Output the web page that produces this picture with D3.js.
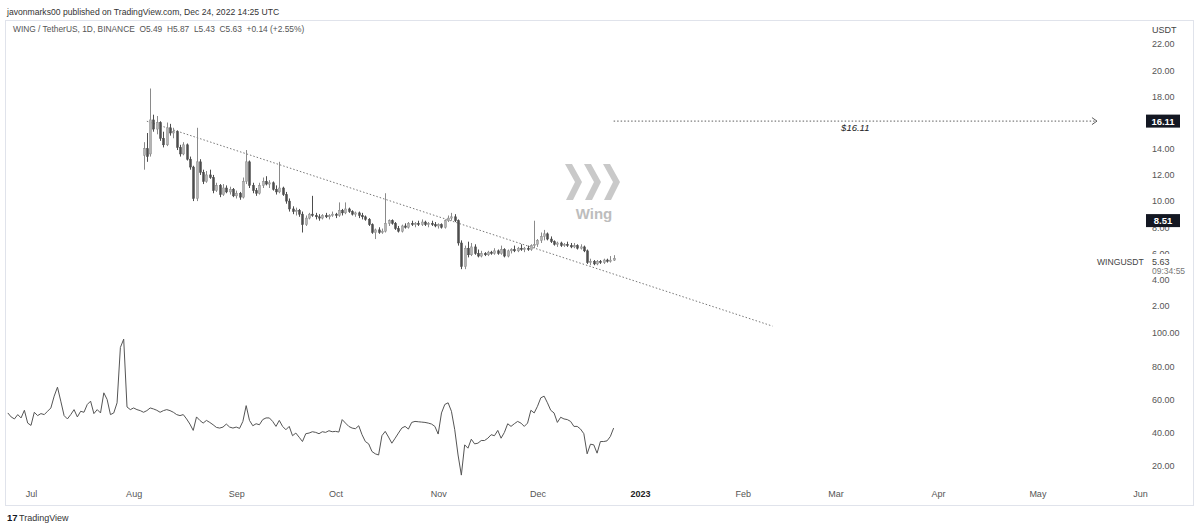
<!DOCTYPE html>
<html lang="en">
<head>
<meta charset="utf-8">
<title>WINGUSDT 1D</title>
<script src="https://cdn.jsdelivr.net/npm/d3@7"></script>
<style>
    body { margin: 0; background: #fff; }
    text { font-family: "Liberation Sans", Arial, sans-serif; }
</style>
</head>
<body>
<script>
// ---- data ----
// daily candles, first one on 2022-08-04
var candleStart = new Date(2022, 7, 4);
var opens = [
    13.5, 14.0, 13.6, 16.2, 15.5, 16.0, 14.8, 14.3, 15.6, 15.2,
    15.3, 14.1, 13.6, 14.3, 13.2, 12.6, 10.2, 13.0, 12.2, 11.5,
    12.0, 11.8, 10.8, 11.2, 10.5, 11.0, 10.7, 10.9, 10.4, 10.6,
    10.3, 11.5, 13.0, 11.2, 10.8, 10.6, 11.2, 11.5, 11.3, 11.4,
    10.9, 10.7, 11.0, 10.5, 10.0, 9.4, 9.2, 9.3, 9.0, 8.2,
    8.7, 9.0, 8.9, 8.8, 8.7, 8.9, 8.8, 8.9, 9.0, 8.9,
    9.3, 9.1, 9.4, 9.2, 9.0, 9.1, 8.9, 8.8, 8.6, 8.2,
    7.6, 7.8, 7.6, 7.7, 8.3, 8.5, 8.3, 7.9, 7.7, 8.1,
    8.0, 8.3, 8.2, 8.3, 8.2, 8.4, 8.2, 8.3, 8.2, 8.1,
    8.2, 8.0, 8.5, 8.7, 8.8, 8.5, 6.8, 5.0, 6.4, 5.9,
    6.5, 6.0, 5.8, 6.0, 5.9, 6.1, 6.0, 6.2, 6.0, 6.3,
    5.8, 6.2, 6.3, 6.2, 6.4, 6.3, 6.4, 6.3, 6.6, 6.7,
    7.0, 7.3, 7.5, 7.1, 6.9, 6.7, 6.8, 6.6, 6.7, 6.6,
    6.5, 6.6, 6.4, 6.5, 6.2, 5.3, 5.4, 5.2, 5.4, 5.3,
    5.5, 5.4, 5.49
];
var highs = [
    14.5, 15.2, 18.6, 16.6, 16.5, 16.1, 15.3, 16.0, 15.9, 15.6,
    15.4, 14.3, 14.5, 14.4, 13.4, 12.7, 15.6, 13.2, 12.4, 12.3,
    12.4, 12.0, 11.4, 11.3, 11.3, 11.2, 11.1, 11.0, 10.8, 10.7,
    11.8, 13.9, 13.1, 11.4, 11.0, 11.4, 11.8, 11.9, 11.6, 11.5,
    11.2, 13.0, 11.1, 10.7, 10.2, 9.6, 9.5, 9.4, 9.2, 8.9,
    9.1, 10.4, 9.1, 9.0, 9.0, 9.1, 9.0, 9.2, 9.1, 9.9,
    9.4, 9.9, 9.5, 9.3, 9.2, 9.2, 9.1, 8.9, 8.7, 8.3,
    7.9, 8.0, 7.9, 10.6, 8.6, 8.6, 8.4, 8.1, 8.2, 8.3,
    8.4, 8.5, 8.4, 8.5, 8.6, 8.5, 8.4, 8.5, 8.4, 8.3,
    8.3, 8.6, 8.9, 9.1, 9.0, 8.6, 7.0, 6.6, 6.9, 6.8,
    6.7, 6.3, 6.2, 6.1, 6.2, 6.2, 6.4, 6.3, 6.6, 6.4,
    6.3, 6.4, 6.6, 6.5, 6.7, 6.5, 6.6, 6.7, 8.5, 7.1,
    7.6, 7.8, 7.6, 7.3, 7.0, 6.9, 6.9, 6.8, 6.9, 6.8,
    6.8, 6.7, 6.7, 6.6, 6.3, 5.6, 5.5, 5.5, 5.5, 5.6,
    5.6, 5.8, 5.87
];
var lows = [
    12.4, 13.0, 13.4, 15.3, 15.1, 14.6, 14.1, 14.2, 15.0, 14.8,
    13.9, 13.4, 13.5, 13.1, 12.4, 10.0, 10.0, 12.0, 11.3, 11.4,
    11.7, 10.6, 10.7, 10.3, 10.4, 10.6, 10.5, 10.3, 10.2, 10.1,
    10.2, 11.3, 11.0, 10.6, 10.4, 10.5, 11.0, 11.2, 11.0, 10.8,
    10.5, 10.6, 10.4, 9.8, 9.2, 9.0, 8.9, 8.8, 7.6, 8.1,
    8.6, 8.8, 8.6, 8.5, 8.6, 8.7, 8.6, 8.8, 8.7, 8.8,
    8.9, 9.0, 9.1, 8.9, 8.8, 8.7, 8.6, 8.5, 8.1, 7.5,
    7.1, 7.5, 7.5, 7.6, 8.1, 8.2, 7.8, 7.6, 7.6, 7.9,
    7.9, 8.1, 8.0, 8.1, 8.1, 8.1, 8.0, 8.1, 8.0, 7.9,
    7.9, 7.9, 8.4, 8.5, 8.4, 6.6, 4.8, 4.8, 5.7, 5.8,
    5.9, 5.7, 5.7, 5.8, 5.8, 5.9, 5.9, 5.9, 5.9, 5.7,
    5.7, 6.0, 6.1, 6.1, 6.2, 6.1, 6.2, 6.2, 6.4, 6.5,
    6.8, 7.0, 7.0, 6.8, 6.6, 6.5, 6.5, 6.5, 6.5, 6.4,
    6.4, 6.3, 6.3, 6.1, 5.2, 5.1, 5.1, 5.1, 5.2, 5.2,
    5.3, 5.3, 5.43
];
var closes = [
    14.0, 13.4, 16.2, 15.5, 16.0, 14.8, 14.3, 15.6, 15.2, 15.3,
    14.1, 13.6, 14.3, 13.2, 12.6, 10.2, 13.0, 12.2, 11.5, 12.0,
    11.8, 10.8, 11.2, 10.5, 11.0, 10.7, 10.9, 10.4, 10.6, 10.3,
    11.5, 13.0, 11.2, 10.8, 10.6, 11.2, 11.5, 11.3, 11.4, 10.9,
    10.7, 11.0, 10.5, 10.0, 9.4, 9.2, 9.3, 9.0, 8.2, 8.7,
    9.0, 8.9, 8.8, 8.7, 8.9, 8.8, 8.9, 9.0, 8.9, 9.3,
    9.1, 9.4, 9.2, 9.0, 9.1, 8.9, 8.8, 8.6, 8.2, 7.6,
    7.8, 7.6, 7.7, 8.3, 8.5, 8.3, 7.9, 7.7, 8.1, 8.0,
    8.3, 8.2, 8.3, 8.2, 8.4, 8.2, 8.3, 8.2, 8.1, 8.2,
    8.0, 8.5, 8.7, 8.8, 8.5, 6.8, 5.0, 6.4, 5.9, 6.5,
    6.0, 5.8, 6.0, 5.9, 6.1, 6.0, 6.2, 6.0, 6.3, 5.8,
    6.2, 6.3, 6.2, 6.4, 6.3, 6.4, 6.3, 6.6, 6.7, 7.0,
    7.3, 7.5, 7.1, 6.9, 6.7, 6.8, 6.6, 6.7, 6.6, 6.5,
    6.6, 6.4, 6.5, 6.2, 5.3, 5.4, 5.2, 5.4, 5.3, 5.5,
    5.4, 5.49, 5.63
];

// lower pane line, one value per day from 2022-06-24
var oscStart = new Date(2022, 5, 24);
var oscValues = [
    51.9, 49.5, 48.3, 50.9, 48.9, 53.5, 45.8, 44.4, 52.3, 50.3,
    51.5, 50.9, 52.9, 54.9, 62.0, 67.4, 59.0, 50.3, 48.3, 50.9,
    53.9, 49.5, 52.9, 52.3, 57.0, 59.0, 51.5, 53.9, 51.9, 64.0,
    60.0, 50.9, 51.9, 58.0, 91.3, 96.3, 55.5, 53.9, 54.9, 53.9,
    53.3, 52.3, 53.3, 54.9, 54.3, 53.5, 52.3, 53.3, 53.9, 53.3,
    52.3, 50.9, 50.3, 50.9, 48.3, 45.2, 41.4, 49.5, 47.4, 45.8,
    47.4, 46.2, 44.8, 43.2, 42.8, 43.4, 45.2, 43.4, 42.8, 43.4,
    42.6, 46.8, 56.3, 47.4, 44.2, 45.4, 44.8, 47.9, 48.9, 48.9,
    46.8, 43.8, 47.4, 43.8, 41.8, 43.8, 38.2, 39.8, 37.3, 34.7,
    39.4, 39.8, 40.6, 40.2, 39.4,
    40.6, 40.2, 41.2, 40.6, 40.8, 40.4, 47.9, 45.8, 43.8, 42.8,
    42.4, 44.2, 38.8, 34.7, 33.3, 28.7, 27.3, 26.6, 38.2, 40.8,
    37.4, 33.7, 36.7, 39.8, 42.8, 43.8, 42.2, 46.2, 46.8, 46.6,
    46.4, 46.2, 45.8, 45.2, 43.8, 39.2, 51.9, 57.0, 58.0, 52.9,
    41.8, 26.6, 14.5, 32.7, 30.7, 36.1, 33.3, 33.7, 35.3, 35.3,
    36.7, 38.8, 38.2, 41.4, 36.7, 40.2, 45.4, 43.8, 45.4, 46.8,
    45.8, 43.8, 45.8, 53.5, 51.9, 55.9, 61.0, 62.0, 58.0, 53.5,
    51.9, 46.2, 49.3, 48.3, 47.9, 46.8, 43.8, 43.8, 42.2, 39.4,
    27.3, 33.1, 32.7, 27.7, 34.7, 34.7, 35.1, 37.7, 42.8
];

// axis ticks
var priceTicks = [2, 4, 6, 8, 10, 12, 14, 16, 18, 20, 22];
var oscTicks = [20, 40, 60, 80, 100];
var monthTicks = [
    new Date(2022, 6, 1), new Date(2022, 7, 1), new Date(2022, 8, 1),
    new Date(2022, 9, 1), new Date(2022, 10, 1), new Date(2022, 11, 1),
    new Date(2023, 0, 1), new Date(2023, 1, 1), new Date(2023, 2, 1),
    new Date(2023, 3, 1), new Date(2023, 4, 1), new Date(2023, 5, 1)
];

// drawings
var trendStart = [new Date(2022, 7, 5), 16.1];
var trendEnd = [new Date(2023, 1, 10), 0.45];
var targetPrice = 16.11;
var targetFrom = new Date(2022, 11, 24);
var targetTo = new Date(2023, 4, 19);
var markerPrice = 8.51;
var lastPrice = 5.63;

// ---- layout ----
var w = 1200, h = 530;
var axisX = 1152;

var svg = d3.select("body").append("svg")
    .attr("width", w).attr("height", h);

var x = d3.scaleTime()
    .domain([new Date(2022, 6, 1), new Date(2023, 5, 1)])
    .range([31, 1140]);
var y = d3.scaleLinear().domain([0, 22]).range([332, 44]);
var yOsc = d3.scaleLinear().domain([0, 100]).range([499.2, 333]);

// header
svg.append("text").attr("x", 7).attr("y", 15)
    .attr("font-size", 8.6).attr("fill", "#333")
    .text("javonmarks00 published on TradingView.com, Dec 24, 2022 14:25 UTC");

// chart frame
svg.append("rect")
    .attr("x", 5.5).attr("y", 20.5).attr("width", 1188).attr("height", 485)
    .attr("fill", "none").attr("stroke", "#e0e3eb");

svg.append("text").attr("x", 13).attr("y", 32)
    .attr("font-size", 8.4).attr("fill", "#555")
    .attr("xml:space", "preserve")
    .text("WING / TetherUS, 1D, BINANCE  O5.49  H5.87  L5.43  C5.63  +0.14 (+2.55%)");

// watermark
var wm = svg.append("g").attr("fill", "#c9c9c9");
[565, 584, 603].forEach(function (x0) {
    wm.append("polygon").attr("points", [
        [x0, 164], [x0 + 7, 164], [x0 + 17, 182], [x0 + 8, 200], [x0 + 1, 200], [x0 + 10, 182]
    ].map(function (p) { return p.join(","); }).join(" "));
});
wm.append("text").attr("x", 594).attr("y", 219).attr("text-anchor", "middle")
    .attr("font-size", 15).attr("font-weight", "bold").attr("fill", "#bdbdbd")
    .text("Wing");

// trend line
svg.append("line")
    .attr("x1", x(trendStart[0])).attr("y1", y(trendStart[1]))
    .attr("x2", x(trendEnd[0])).attr("y2", y(trendEnd[1]))
    .attr("stroke", "#555").attr("stroke-width", 0.8)
    .attr("stroke-dasharray", "1.5,2");

// target line with arrow
var ty = y(targetPrice);
svg.append("line")
    .attr("x1", x(targetFrom)).attr("y1", ty)
    .attr("x2", x(targetTo)).attr("y2", ty)
    .attr("stroke", "#333").attr("stroke-width", 0.8)
    .attr("stroke-dasharray", "1.5,2");
svg.append("path")
    .attr("d", "M" + (x(targetTo) - 5) + "," + (ty - 3.5) + "L" + x(targetTo) + "," + ty +
        "L" + (x(targetTo) - 5) + "," + (ty + 3.5))
    .attr("fill", "none").attr("stroke", "#333").attr("stroke-width", 0.8);
svg.append("text")
    .attr("x", (x(targetFrom) + x(targetTo)) / 2).attr("y", ty + 10)
    .attr("text-anchor", "middle").attr("font-size", 9.5)
    .attr("font-style", "italic").attr("fill", "#222")
    .text("$16.11");

// candles
var candles = opens.map(function (o, i) {
    return {
        date: d3.timeDay.offset(candleStart, i),
        o: o, h: highs[i], l: lows[i], c: closes[i]
    };
});

var cg = svg.append("g");
cg.selectAll("line")
    .data(candles).enter().append("line")
    .attr("x1", function (d) { return Math.round(x(d.date)) + 0.5; })
    .attr("x2", function (d) { return Math.round(x(d.date)) + 0.5; })
    .attr("y1", function (d) { return y(d.h); })
    .attr("y2", function (d) { return y(d.l); })
    .attr("stroke", function (d) { return d.c >= d.o ? "#8a8a8a" : "#4d4d4d"; })
    .attr("stroke-width", 1);
cg.selectAll("rect")
    .data(candles).enter().append("rect")
    .attr("x", function (d) { return Math.round(x(d.date)) - 0.5; })
    .attr("width", 2)
    .attr("y", function (d) { return y(Math.max(d.o, d.c)); })
    .attr("height", function (d) { return Math.max(1, Math.abs(y(d.o) - y(d.c))); })
    .attr("fill", function (d) { return d.c >= d.o ? "#b4b4b4" : "#4d4d4d"; })
    .attr("stroke", function (d) { return d.c >= d.o ? "#8a8a8a" : "#4d4d4d"; })
    .attr("stroke-width", 0.5);

// lower pane line
var osc = oscValues.map(function (v, i) {
    return { date: d3.timeDay.offset(oscStart, i), v: v };
});
svg.append("path")
    .datum(osc)
    .attr("d", d3.line().x(function (d) { return x(d.date); }).y(function (d) { return yOsc(d.v); }))
    .attr("fill", "none").attr("stroke", "#555").attr("stroke-width", 1);

// price axis
svg.append("text").attr("x", axisX).attr("y", 33)
    .attr("font-size", 9).attr("fill", "#444").text("USDT");

var priceAxis = svg.append("g")
    .attr("transform", "translate(" + axisX + ",0)")
    .call(d3.axisRight(y).tickValues(priceTicks).tickFormat(d3.format(".2f"))
        .tickSize(0).tickPadding(0));
var oscAxis = svg.append("g")
    .attr("transform", "translate(" + axisX + ",0)")
    .call(d3.axisRight(yOsc).tickValues(oscTicks).tickFormat(d3.format(".2f"))
        .tickSize(0).tickPadding(0));
[priceAxis, oscAxis].forEach(function (a) {
    a.select(".domain").remove();
    a.selectAll("text").attr("font-size", 9).attr("fill", "#555")
        .attr("font-family", "Liberation Sans, Arial, sans-serif");
});

// last price block covers the lower half of the 6.00 label
svg.append("rect").attr("x", 1095).attr("y", 254).attr("width", 80).attr("height", 19)
    .attr("fill", "#fff");
svg.append("text").attr("x", 1097).attr("y", 265)
    .attr("font-size", 8.6).attr("fill", "#444").text("WINGUSDT");
svg.append("text").attr("x", axisX).attr("y", 265)
    .attr("font-size", 9).attr("fill", "#444").text(d3.format(".2f")(lastPrice));
svg.append("text").attr("x", axisX).attr("y", 273.5)
    .attr("font-size", 8.5).attr("fill", "#777").text("09:34:55");

// price labels of drawings
[targetPrice, markerPrice].forEach(function (p) {
    svg.append("rect").attr("x", axisX - 6).attr("y", y(p) - 6.5).attr("width", 34).attr("height", 13)
        .attr("fill", "#131722");
    svg.append("text").attr("x", axisX + 11).attr("y", y(p) + 3.5)
        .attr("text-anchor", "middle").attr("font-size", 9.5).attr("font-weight", "bold")
        .attr("fill", "#fff").text(d3.format(".2f")(p));
});

// time axis
var timeAxis = svg.append("g")
    .attr("transform", "translate(0,489)")
    .call(d3.axisBottom(x).tickValues(monthTicks)
        .tickFormat(function (d) { return d.getMonth() === 0 ? d3.timeFormat("%Y")(d) : d3.timeFormat("%b")(d); })
        .tickSize(0).tickPadding(2));
timeAxis.select(".domain").remove();
timeAxis.selectAll("text")
    .attr("font-size", 9)
    .attr("font-family", "Liberation Sans, Arial, sans-serif")
    .attr("fill", function (d) { return d.getMonth() === 0 ? "#222" : "#555"; })
    .attr("font-weight", function (d) { return d.getMonth() === 0 ? "bold" : "normal"; });

// footer logo
svg.append("text").attr("x", 7).attr("y", 521)
    .attr("font-size", 9.5).attr("font-weight", "bold").attr("fill", "#131722")
    .text("17");
svg.append("text").attr("x", 19).attr("y", 521)
    .attr("font-size", 9).attr("fill", "#333")
    .text("TradingView");
</script>
</body>
</html>
